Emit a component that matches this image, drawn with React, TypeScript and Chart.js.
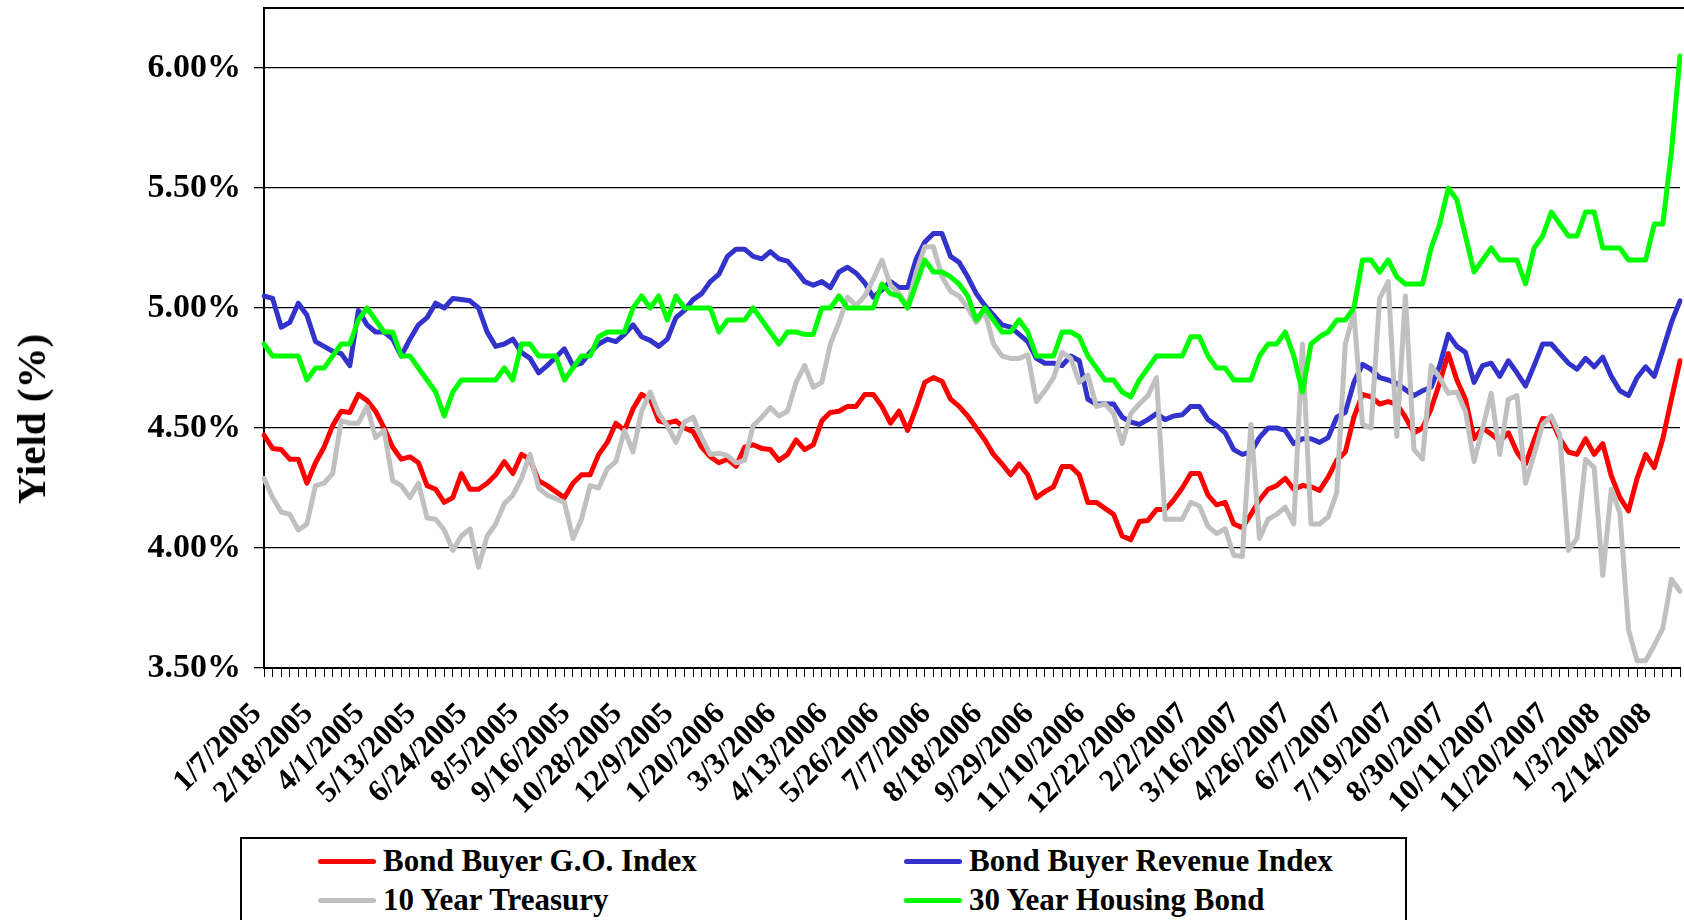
import React, { useEffect, useRef } from 'react';
import { Chart, registerables } from 'chart.js';

Chart.register(...registerables);

const TICK_LABELS = [
  '1/7/2005', '2/18/2005', '4/1/2005', '5/13/2005', '6/24/2005', '8/5/2005', '9/16/2005',
  '10/28/2005', '12/9/2005', '1/20/2006', '3/3/2006', '4/13/2006', '5/26/2006', '7/7/2006',
  '8/18/2006', '9/29/2006', '11/10/2006', '12/22/2006', '2/2/2007', '3/16/2007', '4/26/2007',
  '6/7/2007', '7/19/2007', '8/30/2007', '10/11/2007', '11/20/2007', '1/3/2008', '2/14/2008',
];

const GO_INDEX = [
  4.47, 4.415, 4.41, 4.37, 4.37, 4.27, 4.355, 4.42, 4.51, 4.57,
  4.565, 4.64, 4.615, 4.57, 4.5, 4.42, 4.37, 4.38, 4.355, 4.26,
  4.245, 4.19, 4.21, 4.31, 4.245, 4.245, 4.27, 4.305, 4.36, 4.31,
  4.39, 4.37, 4.28, 4.26, 4.235, 4.21, 4.27, 4.305, 4.305, 4.39,
  4.44, 4.52, 4.49, 4.58, 4.64, 4.62, 4.53, 4.52, 4.53, 4.5,
  4.485, 4.42, 4.38, 4.355, 4.37, 4.34, 4.42, 4.43, 4.415, 4.41,
  4.365, 4.39, 4.45, 4.41, 4.43, 4.53, 4.565, 4.57, 4.59, 4.59,
  4.64, 4.64, 4.59, 4.52, 4.57, 4.49, 4.585, 4.69, 4.71, 4.695,
  4.62, 4.59, 4.55, 4.5, 4.45, 4.39, 4.35, 4.305, 4.35, 4.305,
  4.21, 4.235, 4.255, 4.34, 4.34, 4.305, 4.19, 4.19, 4.165, 4.14,
  4.05, 4.035, 4.11, 4.115, 4.16, 4.16, 4.2, 4.25, 4.31, 4.31,
  4.22, 4.18, 4.19, 4.1, 4.085, 4.14, 4.2, 4.245, 4.26, 4.29,
  4.245, 4.26, 4.255, 4.24, 4.295, 4.365, 4.4, 4.545, 4.64, 4.63,
  4.6, 4.61, 4.6, 4.545, 4.48, 4.5, 4.58, 4.69, 4.81, 4.7,
  4.62, 4.455, 4.5, 4.475, 4.445, 4.48, 4.4, 4.35, 4.45, 4.54,
  4.535, 4.455, 4.4, 4.39, 4.455, 4.39, 4.435, 4.3, 4.21, 4.155,
  4.29, 4.39, 4.335, 4.455, 4.62, 4.78,
];

const REVENUE_INDEX = [
  5.05, 5.04, 4.92, 4.94, 5.02, 4.97, 4.86, 4.84, 4.82, 4.81,
  4.76, 4.99, 4.93, 4.9, 4.9, 4.87, 4.8, 4.87, 4.93, 4.96,
  5.02, 5.0, 5.04, 5.035, 5.03, 5.0, 4.9, 4.84, 4.85, 4.87,
  4.815, 4.79, 4.73, 4.76, 4.795, 4.83, 4.76, 4.77, 4.815, 4.85,
  4.87, 4.86, 4.89, 4.93, 4.88, 4.865, 4.84, 4.87, 4.96, 4.99,
  5.035, 5.06, 5.11, 5.14, 5.215, 5.245, 5.245, 5.215, 5.205, 5.235,
  5.205, 5.195, 5.155, 5.11, 5.095, 5.11, 5.085, 5.15, 5.17, 5.145,
  5.105, 5.045, 5.075, 5.11, 5.085, 5.085, 5.205, 5.275, 5.31, 5.31,
  5.215, 5.19, 5.13, 5.06, 5.01, 4.97, 4.93, 4.92, 4.89, 4.86,
  4.79, 4.77, 4.77, 4.76, 4.8, 4.78, 4.62, 4.6, 4.6, 4.6,
  4.545, 4.525, 4.515, 4.535, 4.56, 4.535, 4.55, 4.555, 4.59, 4.59,
  4.535, 4.51, 4.48, 4.41, 4.39, 4.4, 4.46, 4.5, 4.5, 4.49,
  4.435, 4.455, 4.455, 4.44, 4.46, 4.545, 4.565, 4.69, 4.765, 4.745,
  4.71, 4.7, 4.685, 4.66, 4.635, 4.655, 4.67, 4.76, 4.89, 4.84,
  4.815, 4.69, 4.76, 4.77, 4.715, 4.78, 4.73, 4.675, 4.76, 4.85,
  4.85, 4.81, 4.77, 4.745, 4.79, 4.755, 4.795, 4.715, 4.655, 4.635,
  4.71, 4.755, 4.715, 4.825, 4.94, 5.03,
];

const TREASURY_10Y = [
  4.29, 4.21, 4.15, 4.14, 4.075, 4.1, 4.26, 4.27, 4.31, 4.53,
  4.52, 4.52, 4.59, 4.46, 4.49, 4.28, 4.26, 4.21, 4.27, 4.125,
  4.12, 4.075, 3.99, 4.05, 4.08, 3.92, 4.05, 4.1, 4.185, 4.22,
  4.29, 4.39, 4.25, 4.22, 4.205, 4.19, 4.04, 4.12, 4.26, 4.25,
  4.33, 4.36, 4.49, 4.4, 4.57, 4.65, 4.56, 4.51, 4.44, 4.525,
  4.545, 4.46, 4.39, 4.395, 4.385, 4.355, 4.365, 4.51, 4.545, 4.585,
  4.55, 4.57, 4.69, 4.76, 4.67, 4.69, 4.85, 4.94, 5.045, 5.01,
  5.05, 5.12, 5.2, 5.095, 5.06, 5.01, 5.15, 5.255, 5.255, 5.13,
  5.07, 5.05, 5.0, 4.94, 4.985, 4.85, 4.8, 4.79, 4.79, 4.805,
  4.61, 4.655, 4.71, 4.815, 4.79, 4.69, 4.72, 4.59, 4.6, 4.56,
  4.435, 4.56, 4.6, 4.635, 4.71, 4.12, 4.12, 4.12, 4.19, 4.175,
  4.09, 4.06, 4.08, 3.97, 3.965, 4.515, 4.04, 4.12, 4.14, 4.17,
  4.1, 4.85, 4.1, 4.1, 4.13, 4.23, 4.85, 4.98, 4.515, 4.5,
  5.04, 5.11, 4.465, 5.05, 4.41, 4.37, 4.76, 4.71, 4.645, 4.65,
  4.57, 4.36, 4.5, 4.645, 4.39, 4.62, 4.635, 4.27, 4.39, 4.515,
  4.55, 4.47, 3.99, 4.04, 4.37, 4.335, 3.885, 4.245, 4.145, 3.66,
  3.53, 3.53, 3.595, 3.665, 3.87, 3.82,
];

const HOUSING_30Y = [
  4.85, 4.8, 4.8, 4.8, 4.8, 4.7, 4.75, 4.75, 4.8, 4.85,
  4.85, 4.95, 5.0, 4.95, 4.9, 4.9, 4.8, 4.8, 4.75, 4.7,
  4.65, 4.55, 4.65, 4.7, 4.7, 4.7, 4.7, 4.7, 4.75, 4.7,
  4.85, 4.85, 4.8, 4.8, 4.8, 4.7, 4.75, 4.8, 4.8, 4.88,
  4.9, 4.9, 4.9, 5.0, 5.05, 5.0, 5.05, 4.95, 5.05, 5.0,
  5.0, 5.0, 5.0, 4.9, 4.95, 4.95, 4.95, 5.0, 4.95, 4.9,
  4.85, 4.9, 4.9, 4.89, 4.89, 5.0, 5.0, 5.05, 5.0, 5.0,
  5.0, 5.0, 5.1, 5.06, 5.05, 5.0, 5.1, 5.2, 5.15, 5.15,
  5.13, 5.1, 5.05, 4.95, 5.0, 4.95, 4.9, 4.9, 4.95, 4.9,
  4.8, 4.8, 4.8, 4.9, 4.9, 4.88, 4.8, 4.75, 4.7, 4.7,
  4.65, 4.63, 4.7, 4.75, 4.8, 4.8, 4.8, 4.8, 4.88, 4.88,
  4.8, 4.75, 4.75, 4.7, 4.7, 4.7, 4.8, 4.85, 4.85, 4.9,
  4.8, 4.65, 4.85, 4.88, 4.9, 4.95, 4.95, 5.0, 5.2, 5.2,
  5.15, 5.2, 5.13, 5.1, 5.1, 5.1, 5.25, 5.35, 5.5, 5.45,
  5.3, 5.15, 5.2, 5.25, 5.2, 5.2, 5.2, 5.1, 5.25, 5.3,
  5.4, 5.35, 5.3, 5.3, 5.4, 5.4, 5.25, 5.25, 5.25, 5.2,
  5.2, 5.2, 5.35, 5.35, 5.65, 6.05,
];

const SERIES_NAMES = [
  'Bond Buyer G.O. Index',
  'Bond Buyer Revenue Index',
  '10 Year Treasury',
  '30 Year Housing Bond',
];
const SERIES_COLORS = ['#FF0000', '#3333CC', '#C0C0C0', '#00FF00'];

const FONT = "'Liberation Serif', 'Times New Roman', serif";

export default function App() {
  const canvasRef = useRef<HTMLCanvasElement | null>(null);

  useEffect(() => {
    document.body.style.margin = '0';
    document.body.style.overflow = 'hidden';
    const canvas = canvasRef.current;
    if (!canvas) return;

    const labels = GO_INDEX.map((_, i) =>
      i % 6 === 0 && TICK_LABELS[i / 6] !== undefined ? TICK_LABELS[i / 6] : ''
    );
    const seriesData = [GO_INDEX, REVENUE_INDEX, TREASURY_10Y, HOUSING_30Y];

    const plotBorder = {
      id: 'plotBorder',
      afterDraw(chart: any) {
        const { ctx, chartArea } = chart;
        ctx.save();
        ctx.strokeStyle = '#000';
        ctx.lineWidth = 2;
        ctx.beginPath();
        ctx.moveTo(chartArea.left, chartArea.top);
        ctx.lineTo(chartArea.right + 6, chartArea.top);
        ctx.stroke();
        ctx.restore();
      },
    };

    const xFont = { family: FONT, size: 31, weight: 'bold' as const };
    const yFont = { family: FONT, size: 34, weight: 'bold' as const };

    const chart = new Chart(canvas, {
      type: 'line',
      data: {
        labels,
        datasets: seriesData.map((d, i) => ({
          label: SERIES_NAMES[i],
          data: d,
          borderColor: SERIES_COLORS[i],
          backgroundColor: SERIES_COLORS[i],
          borderWidth: 5,
          pointRadius: 0,
          tension: 0,
          fill: false,
          borderJoinStyle: 'round' as const,
          borderCapStyle: 'round' as const,
          order: 4 - i,
        })),
      },
      options: {
        responsive: false,
        maintainAspectRatio: false,
        animation: false,
        layout: { padding: { top: 8, right: 4, left: 0, bottom: 0 } },
        plugins: {
          legend: { display: false },
          tooltip: { enabled: false },
        },
        scales: {
          x: {
            type: 'category',
            offset: false,
            grid: {
              display: true,
              drawOnChartArea: false,
              drawTicks: true,
              tickLength: 9,
              color: '#000',
              lineWidth: 1,
            },
            border: { display: true, color: '#000', width: 2 },
            ticks: {
              autoSkip: false,
              minRotation: 45,
              maxRotation: 45,
              padding: 19,
              labelOffset: -7,
              color: '#000',
              font: xFont,
            },
            afterFit: (s: any) => {
              s.height = 252;
              s.paddingLeft = 0;
              s.paddingRight = 0;
            },
          },
          y: {
            min: 3.5,
            max: 6.25,
            grid: {
              color: '#000',
              lineWidth: 1.3,
              drawTicks: true,
              tickLength: 10,
            },
            border: { display: true, color: '#000', width: 2 },
            ticks: {
              stepSize: 0.5,
              includeBounds: false,
              padding: 13,
              color: '#000',
              font: yFont,
              callback: (v: any) => Number(v).toFixed(2) + '%',
            },
            afterFit: (s: any) => {
              s.width = 264;
              s.paddingTop = 0;
              s.paddingBottom = 0;
            },
          },
        },
      },
      plugins: [plotBorder],
    });

    return () => chart.destroy();
  }, []);

  const legendRows = [
    [0, 1],
    [2, 3],
  ];
  const colLine = [76, 662];
  const colText = [141, 727];
  const rowCenter = [22, 61];

  return (
    <div
      style={{
        position: 'relative',
        width: 1684,
        height: 920,
        overflow: 'hidden',
        background: '#fff',
      }}
    >
      <canvas
        ref={canvasRef}
        width={1684}
        height={920}
        style={{ position: 'absolute', left: 0, top: 0, width: 1684, height: 920 }}
      />
      <div
        style={{
          position: 'absolute',
          left: 31,
          top: 419,
          transform: 'translate(-50%, -50%) rotate(-90deg)',
          font: `bold 41px ${FONT}`,
          whiteSpace: 'nowrap',
          color: '#000',
        }}
      >
        Yield (%)
      </div>
      <div
        style={{
          position: 'absolute',
          left: 240,
          top: 837,
          width: 1167,
          height: 120,
          boxSizing: 'border-box',
          border: '2px solid #000',
          background: '#fff',
        }}
      >
        {legendRows.map((row, r) =>
          row.map((si, c) => (
            <React.Fragment key={`${r}-${c}`}>
              <div
                style={{
                  position: 'absolute',
                  left: colLine[c],
                  top: rowCenter[r] - 2.5,
                  width: 58,
                  height: 5,
                  borderRadius: 2.5,
                  background: SERIES_COLORS[si],
                }}
              />
              <div
                style={{
                  position: 'absolute',
                  left: colText[c],
                  top: rowCenter[r] - 18,
                  height: 36,
                  lineHeight: '36px',
                  font: `bold 31px ${FONT}`,
                  whiteSpace: 'nowrap',
                  color: '#000',
                }}
              >
                {SERIES_NAMES[si]}
              </div>
            </React.Fragment>
          ))
        )}
      </div>
    </div>
  );
}
